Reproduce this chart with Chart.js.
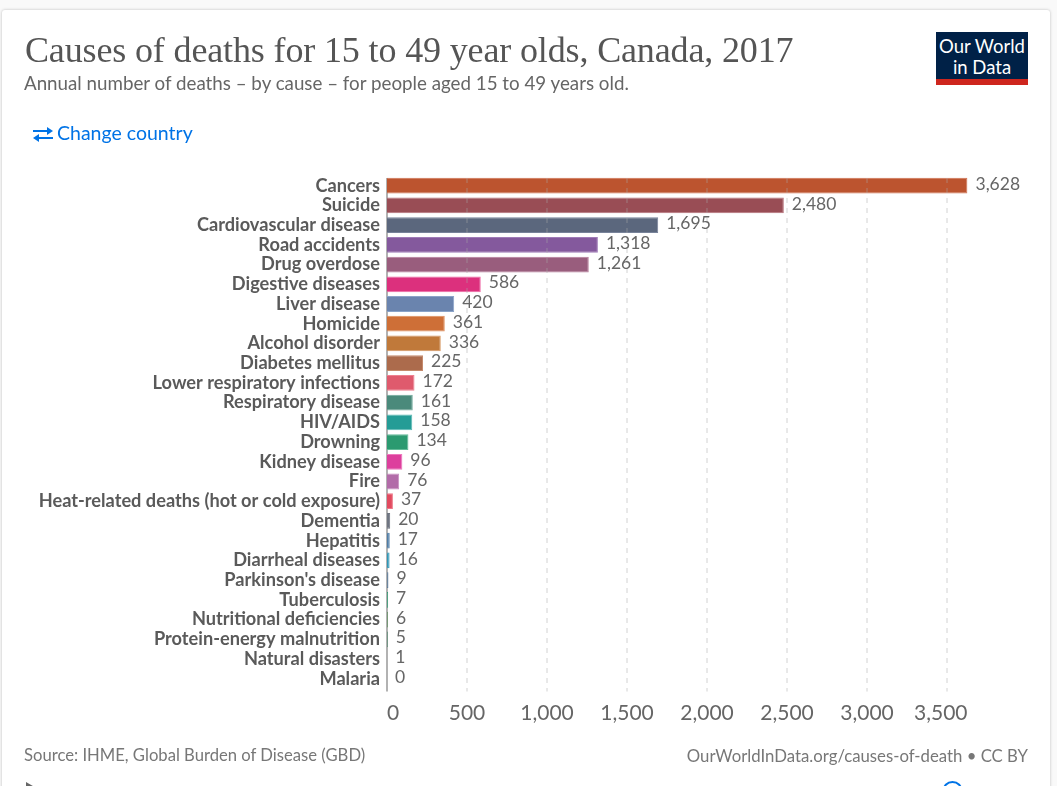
<!DOCTYPE html>
<html>
<head>
<meta charset="utf-8">
<script src="https://cdn.jsdelivr.net/npm/chart.js@4"></script>
<style>
html, body { margin: 0; padding: 0; width: 1057px; height: 786px; overflow: hidden; background: #f9f9f9; font-family: Lato, sans-serif; }
#card { position: absolute; left: 2px; top: 10px; width: 1048px; height: 800px; background: #fff; border-radius: 3px; box-shadow: 0 0 3px rgba(0,0,0,.25); }
#chartWrap { position: absolute; left: 0; top: 0; width: 1057px; height: 786px; }
.txt { position: absolute; white-space: nowrap; }
#title { left: 25px; top: 29px; font: 36px "Liberation Serif", serif; color: #555; letter-spacing: -.14px; }
#subtitle { left: 24px; top: 71px; font-size: 18.75px; color: #666; }
#change { left: 57px; top: 121px; font-size: 19.5px; color: #0073e6; }
#source { left: 24px; top: 745px; font-size: 16.65px; color: #777; }
#url { right: 29px; top: 745px; font-size: 16.75px; color: #777; }
#logo { position: absolute; left: 936px; top: 32px; width: 92px; height: 53px; background: #002147; border-bottom: 6px solid #ce261e; box-sizing: border-box; color: #fff; text-align: center; font-size: 18.5px; line-height: 20.5px; padding-top: 4px; }
#swap { position: absolute; left: 33px; top: 126px; }
#play { position: absolute; left: 26px; top: 782px; width: 0; height: 0; border-left: 12px solid #666; border-top: 7px solid transparent; border-bottom: 7px solid transparent; }
#circle { position: absolute; left: 942px; top: 781px; width: 17px; height: 17px; border: 2px solid #0073e6; border-radius: 50%; }
</style>
</head>
<body>
<div id="card"></div>
<div id="chartWrap"><canvas id="myChart"></canvas></div>
<div class="txt" id="title">Causes of deaths for 15 to 49 year olds, Canada, 2017</div>
<div class="txt" id="subtitle">Annual number of deaths – by cause – for people aged 15 to 49 years old.</div>
<svg id="swap" width="20" height="17" viewBox="0 0 20 17"><path d="M0 4h14v2H0zM14 1l6 4-6 4zM20 11H6v2h14zM6 8l-6 4 6 4z" fill="#0073e6"/></svg>
<div class="txt" id="change">Change country</div>
<div id="logo">Our World<br>in Data</div>
<div class="txt" id="source">Source: IHME, Global Burden of Disease (GBD)</div>
<div class="txt" id="url">OurWorldInData.org/causes-of-death • CC BY</div>
<div id="play"></div>
<div id="circle"></div>
<script>
const causes = ['Cancers', 'Suicide', 'Cardiovascular disease', 'Road accidents', 'Drug overdose', 'Digestive diseases', 'Liver disease', 'Homicide', 'Alcohol disorder', 'Diabetes mellitus', 'Lower respiratory infections', 'Respiratory disease', 'HIV/AIDS', 'Drowning', 'Kidney disease', 'Fire', 'Heat-related deaths (hot or cold exposure)', 'Dementia', 'Hepatitis', 'Diarrheal diseases', "Parkinson's disease", 'Tuberculosis', 'Nutritional deficiencies', 'Protein-energy malnutrition', 'Natural disasters', 'Malaria'];
const deaths = [3628, 2480, 1695, 1318, 1261, 586, 420, 361, 336, 225, 172, 161, 158, 134, 96, 76, 37, 20, 17, 16, 9, 7, 6, 5, 1, 0];
const barColors = ['#bc542f', '#994d55', '#5b677d', '#84599d', '#995d7d', '#dc307d', '#6a84ae', '#ce6f37', '#c0793a', '#ac6b4c', '#df5a6d', '#4a8a7b', '#249c96', '#2b9a70', '#dd3f9d', '#b26ba8', '#e24a5f', '#6f7581', '#4f7da6', '#3096b6', '#5a7a9a', '#2f9a70', '#5f8f5f', '#3f7f5f', '#b0a090', '#999999'];
const barBorders = ['#d07050', '#b57079', '#78839a', '#a07cb8', '#b57d9a', '#ee6aa5', '#8aa3c8', '#e08f5c', '#d69660', '#c58a6c', '#ee8090', '#6fa99a', '#5abab5', '#62bb98', '#ee78bd', '#c88fc0', '#ee7888', '#6f7581', '#4f7da6', '#3096b6', '#5a7a9a', '#2f9a70', '#5f8f5f', '#3f7f5f', '#b0a090', '#999999'];
const xTicks = [0, 500, 1000, 1500, 2000, 2500, 3000, 3500];

const axisTop = 178;
const axisBottom = 691.5;

// axis line under the bars, dashed grid over them, a little longer than the category band
const linesPlugin = {
  id: 'lines',
  beforeDatasetsDraw(chart) {
    const ctx = chart.ctx;
    const x = chart.scales.x.getPixelForValue(0);
    ctx.save();
    ctx.strokeStyle = '#999';
    ctx.lineWidth = 1.5;
    ctx.beginPath();
    ctx.moveTo(x, axisTop);
    ctx.lineTo(x, axisBottom);
    ctx.stroke();
    ctx.restore();
  },
  afterDatasetsDraw(chart) {
    const ctx = chart.ctx;
    ctx.save();
    ctx.strokeStyle = 'rgba(170,170,170,0.35)';
    ctx.lineWidth = 1.5;
    ctx.setLineDash([5, 5]);
    xTicks.slice(1).forEach(t => {
      const x = chart.scales.x.getPixelForValue(t);
      ctx.beginPath();
      ctx.moveTo(x, axisTop);
      ctx.lineTo(x, axisBottom);
      ctx.stroke();
    });
    ctx.restore();
  }
};

// value labels at the bar ends and the x tick labels, which owid keeps inside the plot width
const labelsPlugin = {
  id: 'labels',
  afterDraw(chart) {
    const ctx = chart.ctx;
    const xScale = chart.scales.x;
    const yScale = chart.scales.y;
    ctx.save();
    ctx.font = '17.5px Lato';
    ctx.fillStyle = '#666';
    ctx.textAlign = 'left';
    ctx.textBaseline = 'middle';
    deaths.forEach((v, i) => {
      ctx.fillText(v.toLocaleString('en-US'), xScale.getPixelForValue(v) + 8, yScale.getPixelForValue(i) - 1.5);
    });
    ctx.font = '21px Lato';
    xTicks.forEach(t => {
      const text = t.toLocaleString('en-US');
      const w = ctx.measureText(text).width;
      let x = xScale.getPixelForValue(t) - w / 2;
      x = Math.max(xScale.left, Math.min(x, xScale.right - w));
      ctx.fillText(text, x, 713);
    });
    ctx.restore();
  }
};

const ctx = document.getElementById('myChart').getContext('2d');
new Chart(ctx, {
  type: 'bar',
  plugins: [linesPlugin, labelsPlugin],
  data: {
    labels: causes,
    datasets: [{
      data: deaths,
      backgroundColor: barColors,
      borderColor: barBorders,
      borderWidth: 1,
      barPercentage: 0.8,
      categoryPercentage: 1
    }]
  },
  options: {
    indexAxis: 'y',
    responsive: true,
    maintainAspectRatio: false,
    animation: false,
    layout: { padding: { top: 175.8, bottom: 97.4, right: 89.5, left: 0 } },
    plugins: { legend: { display: false }, tooltip: { enabled: false } },
    scales: {
      x: {
        min: 0,
        max: 3628,
        ticks: { display: false, stepSize: 500, includeBounds: false },
        grid: { display: false, drawTicks: false },
        border: { display: false }
      },
      y: {
        afterFit(scale) { scale.width = 387; },
        ticks: {
          autoSkip: false,
          padding: 7,
          color: '#5a5a5a',
          font: { family: 'Lato', size: 18.2, weight: '700' }
        },
        grid: { display: false, drawTicks: false },
        border: { display: false }
      }
    }
  }
});
</script>
</body>
</html>
